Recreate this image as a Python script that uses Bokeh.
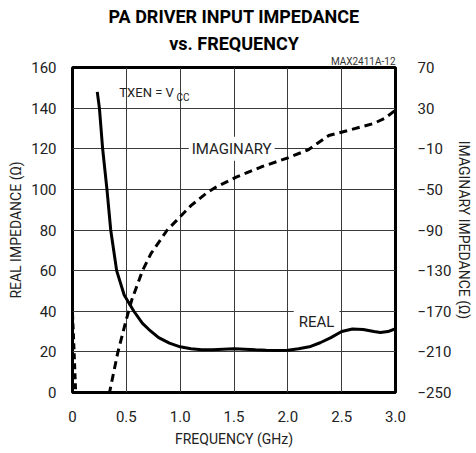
from bokeh.plotting import figure
from bokeh.models import Range1d, LinearAxis, FixedTicker, Label, Title
from bokeh.embed import file_html
from bokeh.resources import INLINE

# Real impedance (ohms) vs frequency (GHz)
freq_real = [0.23, 0.25, 0.28, 0.32, 0.355, 0.41, 0.48, 0.57, 0.65, 0.71, 0.8, 0.9,
             1.0, 1.1, 1.2, 1.3, 1.4, 1.5, 1.6, 1.7, 1.8, 1.9, 2.0, 2.1, 2.2, 2.3,
             2.4, 2.5, 2.6, 2.7, 2.8, 2.86, 2.93, 3.0]
real_ohm = [148, 140, 120, 100, 80, 60, 48, 40, 34, 31, 27, 24.3,
            22.5, 21.5, 21, 21, 21.3, 21.5, 21.3, 21, 20.8, 20.7, 20.8, 21.5, 22.5, 24.5,
            27, 30, 31.3, 31, 30, 29.5, 30, 31.4]

# Imaginary impedance (ohms) vs frequency (GHz)
freq_imag_low = [0.0, 0.015, 0.03]
imag_low = [-172, -210, -252]
freq_imag = [0.34, 0.42, 0.5, 0.55, 0.65, 0.73, 0.88, 1.0, 1.1, 1.24, 1.33, 1.52,
             1.75, 2.0, 2.19, 2.38, 2.56, 2.8, 2.9, 3.0]
imag_ohm = [-252, -211, -178, -159, -130, -113, -90, -77, -66, -54, -48, -38,
            -28, -19, -11, 3, 8, 15, 20, 28]

x_ticks = [0, 0.5, 1.0, 1.5, 2.0, 2.5, 3.0]
real_ticks = [0, 20, 40, 60, 80, 100, 120, 140, 160]
imag_ticks = [-250, -210, -170, -130, -90, -50, -10, 30, 70]

FONT = "Roboto"
TICK = "15px"
TXT = "#222222"

p = figure(frame_width=323, frame_height=325, output_backend="svg",
           toolbar_location=None, title=None,
           x_range=Range1d(0, 3), y_range=Range1d(0, 160),
           min_border_left=72, min_border_right=40, min_border_top=63,
           min_border_bottom=40)
p.extra_y_ranges = {"imag": Range1d(-250, 70)}

p.outline_line_color = "black"
p.outline_line_width = 3
p.outline_line_alpha = 1

p.xaxis.ticker = FixedTicker(ticks=x_ticks)
p.xaxis.major_label_overrides = {0: "0", 0.5: "0.5", 1: "1.0", 1.5: "1.5",
                                 2: "2.0", 2.5: "2.5", 3: "3.0"}
p.yaxis.ticker = FixedTicker(ticks=real_ticks)
p.xgrid.ticker = FixedTicker(ticks=x_ticks)
p.ygrid.ticker = FixedTicker(ticks=real_ticks)
for g in (p.xgrid, p.ygrid):
    g.grid_line_color = "#3a3a3a"
    g.grid_line_width = 1

right = LinearAxis(y_range_name="imag", ticker=FixedTicker(ticks=imag_ticks))
p.add_layout(right, "right")

p.xaxis.axis_label = "FREQUENCY (GHz)"
p.yaxis[0].axis_label = "REAL IMPEDANCE (Ω)"
right.axis_label = "IMAGINARY IMPEDANCE (Ω)"

for ax in p.xaxis + p.yaxis:
    ax.axis_line_color = None
    ax.major_tick_line_color = None
    ax.minor_tick_line_color = None
    ax.major_label_text_font = FONT
    ax.major_label_text_font_size = TICK
    ax.major_label_text_color = TXT
    ax.axis_label_text_font = FONT
    ax.axis_label_text_font_size = "14px"
    ax.axis_label_text_font_style = "normal"
    ax.axis_label_text_color = TXT

p.xaxis.major_label_standoff = 12
p.xaxis.axis_label_standoff = 6
p.yaxis[0].major_label_standoff = 10
p.yaxis[0].axis_label_standoff = 4
right.major_label_standoff = 16
right.axis_label_standoff = 2

# titles (stacked above the frame)
p.add_layout(Title(text="MAX2411A-12", align="right", text_font=FONT,
                   text_font_size="10px", text_font_style="normal",
                   text_color="#333333", standoff=1, offset=0), "above")
p.add_layout(Title(text="vs. FREQUENCY", align="center", text_font=FONT,
                   text_font_size="18px", text_font_style="bold",
                   text_color="black", standoff=0), "above")
p.add_layout(Title(text="PA DRIVER INPUT IMPEDANCE", align="center", text_font=FONT,
                   text_font_size="18px", text_font_style="bold",
                   text_color="black", standoff=7), "above")

p.line(freq_real, real_ohm, line_width=3, color="black")
p.line(freq_imag, imag_ohm, y_range_name="imag", line_width=3, color="black",
       line_dash="8 5")
p.line(freq_imag_low, imag_low, y_range_name="imag", line_width=3, color="black",
       line_dash="6 4")

def lab(text, x, y, size, align="left", baseline="middle", **kw):
    p.add_layout(Label(x=x, y=y, text=text, text_font=FONT, text_font_size=size,
                       text_align=align, text_baseline=baseline,
                       text_color=TXT, **kw))

lab("TXEN = V", 0.435, 147.5, "13px")
lab("CC", 0.965, 145.3, "10px")
lab("IMAGINARY", 1.08, 120, "15px", background_fill_color="white", padding=3,
    level="underlay")
lab("REAL", 2.055, 34.5, "15px", background_fill_color="white", padding=5,
    level="underlay")

open("out.html", "w").write(file_html(p, INLINE))
